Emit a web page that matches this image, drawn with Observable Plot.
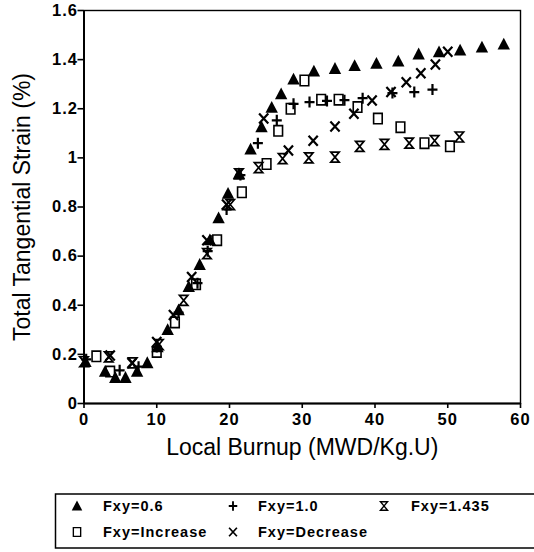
<!DOCTYPE html>
<html><head><meta charset="utf-8">
<script src="https://cdn.jsdelivr.net/npm/d3@7"></script>
<script src="https://cdn.jsdelivr.net/npm/@observablehq/plot@0.6"></script>
<style>
html,body{margin:0;padding:0;background:#fff;overflow:hidden}
#wrap{position:relative;width:534px;height:552px;font-family:"Liberation Sans",Arial,Helvetica,sans-serif}
#chart{position:absolute;left:0;top:0}
#legend{position:absolute;left:0;top:486px}
</style>
</head><body>
<div id="wrap"><div id="chart"></div><div id="legend"></div></div>
<script>
// ---- data ----
const xTicks = [0, 10, 20, 30, 40, 50, 60];
const yTicks = [0, 0.2, 0.4, 0.6, 0.8, 1, 1.2, 1.4, 1.6];
const xTitle = "Local Burnup (MWD/Kg.U)";
const yTitle = "Total Tangential Strain (%)";
const seriesNames = ["Fxy=0.6", "Fxy=1.0", "Fxy=1.435", "Fxy=Increase", "Fxy=Decrease"];

const burnup06 = [0.2, 2.9, 4.3, 5.7, 7.3, 8.7, 10.1, 11.5, 13.0, 14.4, 15.9, 17.3, 18.5, 19.8, 21.3, 22.9, 24.4, 25.8, 27.1, 28.8, 31.6, 34.5, 37.2, 40.2, 43.2, 46.0, 48.8, 51.7, 54.7, 57.7];
const strain06 = [0.17, 0.13, 0.105, 0.105, 0.13, 0.165, 0.23, 0.30, 0.38, 0.475, 0.565, 0.665, 0.755, 0.855, 0.935, 1.035, 1.125, 1.205, 1.26, 1.32, 1.352, 1.363, 1.375, 1.384, 1.393, 1.422, 1.431, 1.438, 1.45, 1.462];

const burnup10 = [0.3, 4.9, 7.5, 10.0, 13.0, 15.6, 17.0, 19.6, 21.5, 23.9, 26.5, 28.8, 31.0, 33.4, 35.8, 38.3, 42.4, 45.4, 47.9];
const strain10 = [0.18, 0.135, 0.15, 0.23, 0.37, 0.49, 0.62, 0.79, 0.93, 1.06, 1.153, 1.22, 1.227, 1.232, 1.235, 1.243, 1.264, 1.268, 1.278];

const burnup1435 = [0.0, 3.4, 6.7, 10.3, 13.7, 16.9, 20.1, 21.3, 24.0, 27.3, 30.9, 34.5, 37.9, 41.3, 44.7, 48.2, 51.6];
const strain1435 = [0.17, 0.19, 0.165, 0.24, 0.42, 0.61, 0.81, 0.935, 0.96, 0.997, 1.0, 1.003, 1.047, 1.055, 1.06, 1.07, 1.085];

const burnupInc = [1.7, 3.6, 10.0, 12.5, 15.4, 18.3, 21.7, 25.1, 26.7, 28.4, 30.3, 32.6, 35.0, 37.6, 40.4, 43.5, 46.8, 50.3];
const strainInc = [0.192, 0.13, 0.21, 0.33, 0.485, 0.665, 0.86, 0.975, 1.11, 1.20, 1.315, 1.237, 1.237, 1.207, 1.16, 1.125, 1.06, 1.047];

const burnupDec = [3.6, 6.6, 10.0, 12.3, 14.8, 16.9, 19.6, 24.7, 28.1, 31.5, 34.5, 37.1, 39.6, 42.2, 44.3, 46.3, 48.3, 50.0];
const strainDec = [0.195, 0.165, 0.25, 0.36, 0.515, 0.665, 0.81, 1.16, 1.03, 1.07, 1.128, 1.18, 1.234, 1.268, 1.308, 1.345, 1.38, 1.432];

// ---- build rows ----
const rows = (xs, ys) => xs.map((b, i) => ({b, s: ys[i]}));
const d06 = rows(burnup06, strain06);
const d10 = rows(burnup10, strain10);
const d1435 = rows(burnup1435, strain1435);
const dInc = rows(burnupInc, strainInc);
const dDec = rows(burnupDec, strainDec);

// ---- marker shapes ----
const symTriangle = {draw(c) { c.moveTo(0, -6.6); c.lineTo(6.2, 5.2); c.lineTo(-6.2, 5.2); c.closePath(); }};
const symPlus = {draw(c) { c.moveTo(-5, 0); c.lineTo(5, 0); c.moveTo(0, -5.5); c.lineTo(0, 5.5); }};
const symSquare = {draw(c) { c.moveTo(-4.3, -5.2); c.lineTo(4.3, -5.2); c.lineTo(4.3, 5.2); c.lineTo(-4.3, 5.2); c.closePath(); }};
const symTimes = {draw(c) { c.moveTo(-4.6, -5); c.lineTo(4.6, 5); c.moveTo(4.6, -5); c.lineTo(-4.6, 5); }};
const symHourglass = {draw(c) { c.moveTo(-4.2, -5); c.lineTo(4.2, -5); c.lineTo(-4.2, 5); c.lineTo(4.2, 5); c.closePath(); }};

const fmt = d => String(d);

const chart = Plot.plot({
  width: 534,
  height: 470,
  marginLeft: 83.5,
  marginRight: 14,
  marginTop: 10,
  marginBottom: 67,
  style: {fontFamily: '"Liberation Sans", Arial, Helvetica, sans-serif', color: "black", background: "white"},
  x: {domain: [0, 60]},
  y: {domain: [0, 1.6]},
  marks: [
    Plot.frame({stroke: "black", strokeWidth: 1.4}),
    Plot.ruleX([0], {stroke: "black", strokeWidth: 2}),
    Plot.ruleY([0], {stroke: "black", strokeWidth: 2}),
    Plot.axisY({ticks: yTicks, tickFormat: fmt, tickSize: 6, tickPadding: 0, strokeWidth: 1.6, fontSize: 16.5, fontWeight: "bold", label: null}),
    Plot.axisX({ticks: xTicks, tickFormat: fmt, tickSize: 5, tickPadding: 5, strokeWidth: 1.6, fontSize: 16.5, fontWeight: "bold", label: null}),
    Plot.text([xTitle], {frameAnchor: "bottom", dy: 44, fontSize: 23, lineAnchor: "middle", textAnchor: "middle", fill: "black", ariaLabel: "xtitle"}),
    Plot.text([yTitle], {frameAnchor: "left", dx: -61, rotate: -90, fontSize: 23, lineAnchor: "middle", textAnchor: "middle", fill: "black", ariaLabel: "ytitle"}),
    Plot.dot(d06, {x: "b", y: "s", symbol: symTriangle, fill: "black", stroke: "none"}),
    Plot.dot(dInc, {x: "b", y: "s", symbol: symSquare, fill: "none", stroke: "black", strokeWidth: 1.6}),
    Plot.dot(d1435, {x: "b", y: "s", symbol: symHourglass, fill: "none", stroke: "black", strokeWidth: 1.7}),
    Plot.dot(d10, {x: "b", y: "s", symbol: symPlus, fill: "none", stroke: "black", strokeWidth: 2.2}),
    Plot.dot(dDec, {x: "b", y: "s", symbol: symTimes, fill: "none", stroke: "black", strokeWidth: 2.2})
  ]
});
document.getElementById("chart").appendChild(chart);

const sv = d3.select(chart);
sv.selectAll('g[aria-label="xtitle"] text, g[aria-label="ytitle"] text').style("letter-spacing", "1.9px");
sv.selectAll('g[aria-label="y-axis tick label"] text, g[aria-label="x-axis tick label"] text').style("letter-spacing", "1px");

// ---- legend ----
const legendItems = [
  {name: seriesNames[0], sym: symTriangle, fill: "black", stroke: "none", sw: 0, col: 0, row: 0},
  {name: seriesNames[1], sym: symPlus, fill: "none", stroke: "black", sw: 2.2, col: 1, row: 0},
  {name: seriesNames[2], sym: symHourglass, fill: "none", stroke: "black", sw: 1.6, col: 2, row: 0},
  {name: seriesNames[3], sym: symSquare, fill: "none", stroke: "black", sw: 1.6, col: 0, row: 1},
  {name: seriesNames[4], sym: symTimes, fill: "none", stroke: "black", sw: 2.0, col: 1, row: 1}
];
const colSym = [77, 233, 384];
const colText = [103, 258, 411];
const rowY = [20, 46];
const lg = d3.select("#legend").append("svg").attr("width", 534).attr("height", 66)
  .style("font-family", '"Liberation Sans", Arial, Helvetica, sans-serif');
lg.append("rect").attr("x", 55.5).attr("y", 8).attr("width", 500).attr("height", 54)
  .attr("fill", "white").attr("stroke", "black").attr("stroke-width", 1.5);
legendItems.forEach(it => {
  const p = d3.path(); it.sym.draw(p);
  lg.append("path").attr("d", p.toString())
    .attr("transform", `translate(${colSym[it.col]},${rowY[it.row]}) scale(0.85)`)
    .attr("fill", it.fill).attr("stroke", it.stroke).attr("stroke-width", it.sw);
  lg.append("text").attr("x", colText[it.col]).attr("y", rowY[it.row]).attr("dy", "0.35em")
    .attr("font-size", 14.5).attr("font-weight", "bold").style("letter-spacing", "1px")
    .text(it.name);
});
</script>
</body></html>
